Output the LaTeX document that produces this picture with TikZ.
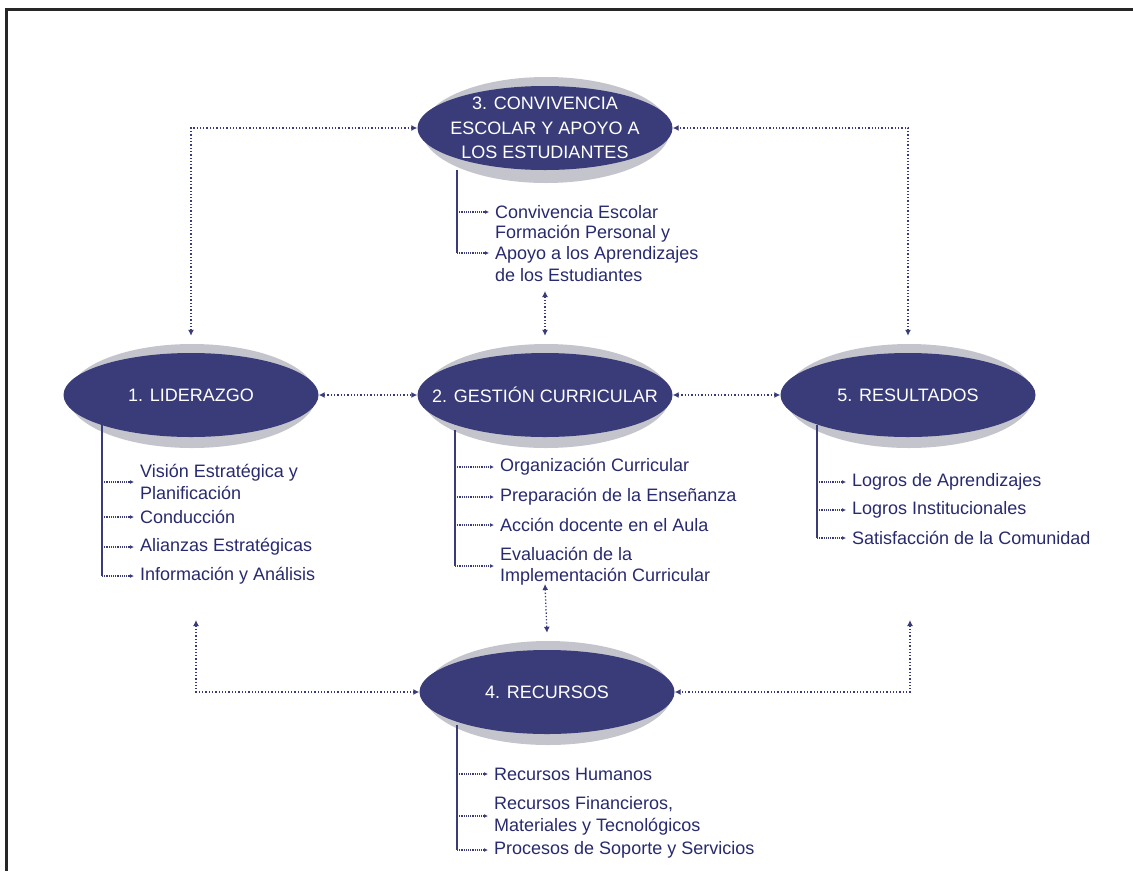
\documentclass[tikz,border=0pt]{standalone}
\usepackage{fontspec}
\setmainfont{Liberation Sans}
\usetikzlibrary{shapes.geometric,arrows.meta}
\definecolor{navy}{RGB}{58,60,122}
\definecolor{textnavy}{RGB}{40,42,110}
\definecolor{rimgray}{RGB}{196,196,204}
\tikzset{
  ell/.style={ellipse, fill=navy, minimum width=255pt, minimum height=84pt,
    inner sep=0pt},
  elltext/.style={text=white, font=\fontsize{18}{24.5}\selectfont, align=center, inner sep=0pt},
  rimfill/.style={fill=rimgray},
  link/.style={draw=navy, dotted, line width=1.3pt,
    {Latex[length=6pt,width=6pt]}-{Latex[length=6pt,width=6pt]}},
  vline/.style={draw=navy, line width=1.2pt},
  harr/.style={draw=navy, densely dotted, line width=1.2pt, -{Latex[length=4pt,width=4pt]}},
  item/.style={anchor=west, text=textnavy, font=\fontsize{18}{21.5}\selectfont,
    align=left, inner sep=0pt},
  frame/.style={draw=black!85, line width=3pt}
}
\begin{document}
\begin{tikzpicture}[x=1pt,y=-1pt]
\useasboundingbox (0,0) rectangle (1133,871);
% frame
\coordinate (ftl) at (6,9);
\coordinate (ftr) at (1133,9);
\coordinate (fbl) at (6,871);
\draw[frame] (ftr) -- (ftl) -- (fbl);

% rims
\fill[rimfill] (546,130) ellipse [x radius=124, y radius=53];
\fill[rimfill] (192,396) ellipse [x radius=124, y radius=52];
\fill[rimfill] (546,396) ellipse [x radius=124, y radius=52];
\fill[rimfill] (909,396) ellipse [x radius=124, y radius=52];
\fill[rimfill] (548,693) ellipse [x radius=124, y radius=52];

% branch start coordinates
\coordinate (b3) at (457,170);
\coordinate (b1) at (102,425);
\coordinate (b2) at (455,430);
\coordinate (b5) at (817,425);
\coordinate (b4) at (457,725);

% items
\node[item] (i31) at (495,212) {Convivencia Escolar};
\node[item] (i32) at (495,253) {Formación Personal y\\Apoyo a los Aprendizajes\\de los Estudiantes};
\node[item] (i11) at (140,482) {Visión Estratégica y\\Planificación};
\node[item] (i12) at (140,517) {Conducción};
\node[item] (i13) at (140,547) {Alianzas Estratégicas};
\node[item] (i14) at (140,576) {Información y Análisis};
\node[item] (i21) at (500,467) {Organización Curricular};
\node[item] (i22) at (500,497) {Preparación de la Enseñanza};
\node[item] (i23) at (500,525) {Acción docente en el Aula};
\node[item] (i24) at (500,566) {Evaluación de la\\Implementación Curricular};
\node[item] (i51) at (852,482) {Logros de Aprendizajes};
\node[item] (i52) at (852,510) {Logros Institucionales};
\node[item] (i53) at (852,538) {Satisfacción de la Comunidad};
\node[item] (i41) at (494,774) {Recursos Humanos};
\node[item] (i42) at (494,816) {Recursos Financieros,\\Materiales y Tecnológicos};
\node[item] (i43) at (494,850) {Procesos de Soporte y Servicios};

% branch lines
\draw[vline] (b3) -- (b3 |- i32.west);
\draw[vline] (b1) -- (b1 |- i14.west);
\draw[vline] (b2) -- (b2 |- i24.west);
\draw[vline] (b5) -- (b5 |- i53.west);
\draw[vline] (b4) -- (b4 |- i43.west);
\foreach \b/\i in {b3/i31,b3/i32,b1/i11,b1/i12,b1/i13,b1/i14,b2/i21,b2/i22,b2/i23,b2/i24,b5/i51,b5/i52,b5/i53,b4/i41,b4/i42,b4/i43}
  \draw[harr] (\b |- \i.west) -- ([xshift=-6pt]\i.west);

% main ellipses
\node[ell, label={[elltext]center:{3. CONVIVENCIA\\ESCOLAR Y APOYO A\\LOS ESTUDIANTES}}] (e3) at (545,128) {};
\node[ell, label={[elltext]center:{1. LIDERAZGO}}] (e1) at (191,395) {};
\node[ell, label={[elltext]center:{2. GESTIÓN CURRICULAR}}] (e2) at (545,395) {};
\node[ell, label={[elltext]center:{5. RESULTADOS}}] (e5) at (908,395) {};
\node[ell, label={[elltext]center:{4. RECURSOS}}] (e4) at (547,692) {};

% free ends
\coordinate (u32) at (545,291);
\coordinate (u24) at (545,584);
\coordinate (c41) at (196,620);
\coordinate (c45) at (910,620);

% links
\draw[link] ([yshift=17pt]e1.north) |- (e3.west);
\draw[link] ([yshift=17pt]e5.north) |- (e3.east);
\draw[link] (e1.east) -- (e2.west);
\draw[link] (e2.east) -- (e5.west);
\draw[link] (u32) -- ([yshift=17pt]e2.north);
\draw[link] (u24) -- ([yshift=17pt]e4.north);
\draw[link] (c41) |- (e4.west);
\draw[link] (c45) |- (e4.east);
\end{tikzpicture}
\end{document}
